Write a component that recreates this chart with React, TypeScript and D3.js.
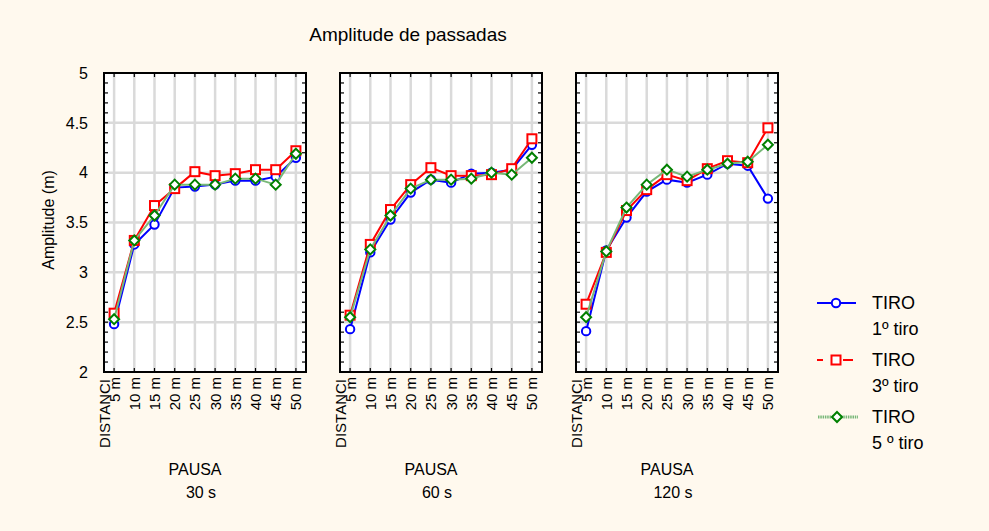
import React from 'react';
import * as d3 from 'd3';

// --- data ---
const distances = ['5 m', '10 m', '15 m', '20 m', '25 m', '30 m', '35 m', '40 m', '45 m', '50 m'];
const pauses = ['30 s', '60 s', '120 s'];
const yTicks = [2, 2.5, 3, 3.5, 4, 4.5, 5];

// TIRO 1º tiro, per pause
const tiro1_30 = [2.48, 3.28, 3.48, 3.85, 3.86, 3.88, 3.92, 3.92, 3.96, 4.15];
const tiro1_60 = [2.43, 3.2, 3.53, 3.8, 3.93, 3.9, 3.99, 4.0, 4.03, 4.28];
const tiro1_120 = [2.41, 3.22, 3.55, 3.81, 3.93, 3.9, 3.98, 4.09, 4.07, 3.74];
// TIRO 3º tiro
const tiro3_30 = [2.59, 3.32, 3.67, 3.84, 4.01, 3.97, 3.99, 4.03, 4.03, 4.22];
const tiro3_60 = [2.57, 3.28, 3.63, 3.88, 4.05, 3.97, 3.97, 3.98, 4.04, 4.34];
const tiro3_120 = [2.68, 3.2, 3.62, 3.83, 3.98, 3.92, 4.04, 4.12, 4.1, 4.45];
// TIRO 5 º tiro
const tiro5_30 = [2.53, 3.32, 3.57, 3.88, 3.88, 3.88, 3.94, 3.94, 3.88, 4.19];
const tiro5_60 = [2.55, 3.23, 3.57, 3.84, 3.93, 3.93, 3.94, 4.0, 3.98, 4.15];
const tiro5_120 = [2.55, 3.21, 3.65, 3.88, 4.03, 3.96, 4.03, 4.09, 4.11, 4.28];

const series = [
    { name: 'TIRO', sub: '1º tiro', color: '#0000ff', line: '#0000ff', marker: 'circle', values: [tiro1_30, tiro1_60, tiro1_120] },
    { name: 'TIRO', sub: '3º tiro', color: '#ff0000', line: '#ff0000', marker: 'square', values: [tiro3_30, tiro3_60, tiro3_120] },
    { name: 'TIRO', sub: '5 º tiro', color: '#008000', line: '#78b878', marker: 'diamond', values: [tiro5_30, tiro5_60, tiro5_120] },
];

const W = 989, H = 531;
const panelLeft = [104, 340, 576];
const panelW = 202;
const top = 73, bottom = 372;
const bg = '#fff9ee';
const font = 'Arial, "Liberation Sans", sans-serif';

const y = d3.scaleLinear().domain([2, 5]).range([bottom, top]);
const minorTicks = d3.range(20, 51).map(v => v / 10);

const Marker: React.FC<{ kind: string, x: number, y: number, color: string }> = ({ kind, x, y, color }) => {
    if (kind === 'circle') return <circle cx={x} cy={y} r={4.2} fill="#fff" stroke={color} strokeWidth={2} />;
    if (kind === 'square') return <rect x={x - 4.5} y={y - 4.5} width={9} height={9} fill="#fff" stroke={color} strokeWidth={2} />;
    return <path d={`M${x},${y - 5}L${x + 5},${y}L${x},${y + 5}L${x - 5},${y}Z`} fill="#fff" stroke={color} strokeWidth={2} />;
};

const Panel: React.FC<{ idx: number }> = ({ idx }) => {
    const x0 = panelLeft[idx];
    const x = d3.scalePoint<string>().domain(distances).range([x0, x0 + panelW]).padding(0.5);
    const line = d3.line<number>().x((_, i) => x(distances[i])!).y(d => y(d));
    const cx = x0 + panelW / 2;
    return (
        <g>
            <rect x={x0} y={top} width={panelW} height={bottom - top} fill="#fff" />
            {/* grid */}
            {distances.map(d => (
                <line key={d} x1={x(d)} x2={x(d)} y1={top} y2={bottom} stroke="#dadada" strokeWidth={2.5} />
            ))}
            {yTicks.slice(1, -1).map(t => (
                <line key={t} x1={x0} x2={x0 + panelW} y1={y(t)} y2={y(t)} stroke="#dadada" strokeWidth={2.5} />
            ))}
            {/* minor ticks */}
            {minorTicks.map(t => (
                <g key={t}>
                    <line x1={x0} x2={x0 + 4} y1={y(t)} y2={y(t)} stroke="#000" strokeWidth={1.2} />
                    <line x1={x0 + panelW - 4} x2={x0 + panelW} y1={y(t)} y2={y(t)} stroke="#000" strokeWidth={1.2} />
                </g>
            ))}
            {distances.map(d => (
                <g key={d}>
                    <line x1={x(d)} x2={x(d)} y1={top} y2={top + 4} stroke="#000" strokeWidth={1.2} />
                    <line x1={x(d)} x2={x(d)} y1={bottom - 4} y2={bottom} stroke="#000" strokeWidth={1.2} />
                </g>
            ))}
            {/* series */}
            {series.map(s => (
                <g key={s.sub}>
                    <path d={line(s.values[idx]) || ''} fill="none" stroke={s.line} strokeWidth={2} />
                    {s.values[idx].map((v, i) => (
                        <Marker key={i} kind={s.marker} x={x(distances[i])!} y={y(v)} color={s.color} />
                    ))}
                </g>
            ))}
            <rect x={x0} y={top} width={panelW} height={bottom - top} fill="none" stroke="#000" strokeWidth={2} />
            {/* x tick labels */}
            {distances.map(d => (
                <text key={d} transform={`translate(${x(d)! + 5.5},${377}) rotate(-90)`} textAnchor="end"
                    fontSize={15} fontFamily={font} fill="#000">{d}</text>
            ))}
            <text transform={`translate(${x0 + 5.5},${379}) rotate(-90)`} textAnchor="end"
                fontSize={15} fontFamily={font} fill="#000">DISTANCI</text>
            <text x={cx - 10} y={475} textAnchor="middle" fontSize={16} fontFamily={font}>PAUSA</text>
            <text x={cx - 4} y={498} textAnchor="middle" fontSize={16} fontFamily={font}>{pauses[idx]}</text>
        </g>
    );
};

export default function App() {
    const legendY = [303, 360, 417];
    return (
        <div style={{ position: 'fixed', left: 0, top: 0 }}>
            <svg width={W} height={H} style={{ display: 'block', background: bg }}>
                <rect width={W} height={H} fill={bg} />
                <text x={408} y={41} textAnchor="middle" fontSize={19} fontFamily={font}>Amplitude de passadas</text>
                {yTicks.map(t => (
                    <text key={t} x={88} y={y(t)} dy="0.36em" textAnchor="end" fontSize={16} fontFamily={font}>{t}</text>
                ))}
                <text transform={`translate(54,${220}) rotate(-90)`} textAnchor="middle"
                    fontSize={16} fontFamily={font}>Amplitude (m)</text>
                {[0, 1, 2].map(i => <Panel key={i} idx={i} />)}
                {/* legend */}
                {series.map((s, i) => {
                    const ly = legendY[i];
                    return (
                        <g key={s.sub}>
                            {i === 0 && <line x1={817} x2={856} y1={ly} y2={ly} stroke={s.line} strokeWidth={2} />}
                            {i === 1 && (
                                <g>
                                    <line x1={817} x2={823} y1={ly} y2={ly} stroke={s.line} strokeWidth={2} />
                                    <line x1={843} x2={853} y1={ly} y2={ly} stroke={s.line} strokeWidth={2} />
                                </g>
                            )}
                            {i === 2 && <line x1={818} x2={858} y1={ly} y2={ly} stroke={s.line} strokeWidth={3} strokeDasharray="1.5 0.8" />}
                            <Marker kind={s.marker} x={i === 2 ? 837 : 836} y={ly} color={s.color} />
                            <text x={872} y={ly + 6} fontSize={18} fontFamily={font}>{s.name}</text>
                            <text x={872} y={ly + 32} fontSize={18} fontFamily={font}>{s.sub}</text>
                        </g>
                    );
                })}
            </svg>
        </div>
    );
}
